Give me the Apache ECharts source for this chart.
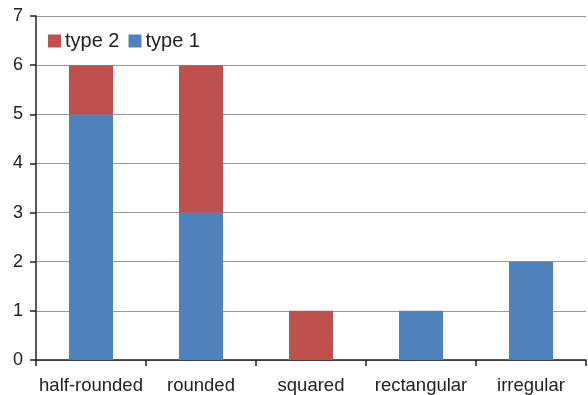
<!DOCTYPE html>
<html>
<head>
<meta charset="utf-8">
<script src="https://cdn.jsdelivr.net/npm/echarts@6/dist/echarts.min.js"></script>
<style>
  html, body { margin: 0; padding: 0; background: #fff; }
  #chart { width: 588px; height: 395px; }
</style>
</head>
<body>
<div id="chart"></div>
<script>
// Shape categories and counts per type
const categories = ['half-rounded', 'rounded', 'squared', 'rectangular', 'irregular'];
const type1 = [5, 3, 0, 1, 2];
const type2 = [1, 3, 1, 0, 0];
const yTicks = [0, 1, 2, 3, 4, 5, 6, 7];

const FONT = 'Liberation Sans, Arial, sans-serif';
const chart = echarts.init(document.getElementById('chart'), null, { renderer: 'canvas' });

chart.setOption({
  animation: false,
  textStyle: { fontFamily: FONT },
  grid: { left: 36, right: 2, top: 16, bottom: 35, containLabel: false },
  legend: {
    data: ['type 2', 'type 1'],
    left: 43, top: 26,
    itemWidth: 13, itemHeight: 13, itemGap: 9,
    icon: 'rect',
    textStyle: { fontSize: 20, color: '#222', fontFamily: FONT, padding: [0, 0, 0, -1] }
  },
  xAxis: {
    type: 'category',
    data: categories,
    axisLine: { lineStyle: { color: '#222', width: 1.5 } },
    axisTick: { show: true, alignWithLabel: false, length: 6, inside: false, lineStyle: { color: '#222', width: 1.5 } },
    axisLabel: { fontSize: 18.5, color: '#222', margin: 16, fontFamily: FONT, interval: 0 },
    boundaryGap: true
  },
  yAxis: {
    type: 'value',
    min: yTicks[0], max: yTicks[yTicks.length - 1], interval: 1,
    axisLine: { show: true, lineStyle: { color: '#222', width: 1.5 } },
    axisTick: { show: true, length: 6, lineStyle: { color: '#222', width: 1.5 } },
    axisLabel: { fontSize: 18, color: '#222', margin: 13, fontFamily: FONT },
    splitLine: { lineStyle: { color: '#999', width: 1 } }
  },
  series: [
    {
      name: 'type 1', type: 'bar', stack: 'all',
      data: type1, barWidth: 44,
      itemStyle: { color: '#4F81BD' }
    },
    {
      name: 'type 2', type: 'bar', stack: 'all',
      data: type2, barWidth: 44,
      itemStyle: { color: '#C0504D' }
    }
  ]
});
</script>
</body>
</html>
